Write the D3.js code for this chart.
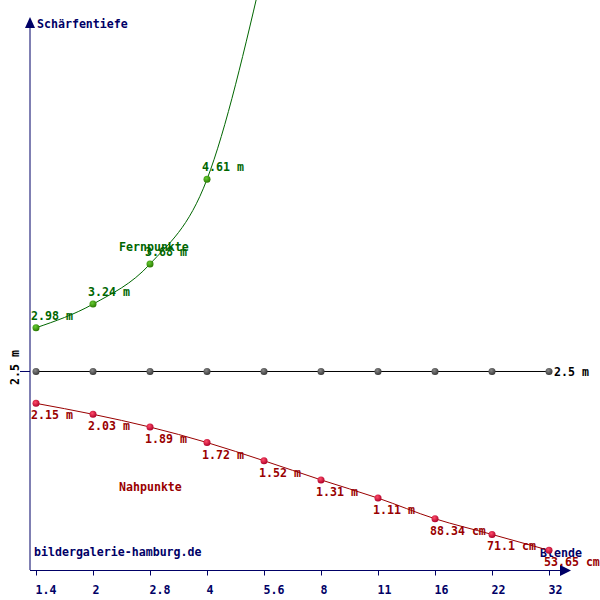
<!DOCTYPE html>
<html><head><meta charset="utf-8">
<script src="https://cdn.jsdelivr.net/npm/d3@7/dist/d3.min.js"></script>
<style>
html,body{margin:0;padding:0;background:#fff;}
svg text{font-family:"DejaVu Sans Mono",monospace;font-weight:bold;font-size:11.6px;}
</style>
</head><body>
<script>
const blenden = ["1.4","2","2.8","4","5.6","8","11","16","22","32"];
const nahValues = [2.15, 2.03, 1.89, 1.72, 1.52, 1.31, 1.11, 0.8834, 0.711, 0.5365];
const nahLabels = ["2.15 m","2.03 m","1.89 m","1.72 m","1.52 m","1.31 m","1.11 m","88.34 cm","71.1 cm","53.65 cm"];
const fernValues = [2.98, 3.24, 3.68, 4.61, 6.95];
const fernLabels = ["2.98 m","3.24 m","3.68 m","4.61 m","6.95 m"];
const focusValue = 2.5;
const focusLabel = "2.5 m";

const W = 600, H = 600;
const svg = d3.select("body").append("svg").attr("width", W).attr("height", H);
const defs = svg.append("defs");
function grad(id, c0, c1) {
  const g = defs.append("radialGradient").attr("id", id).attr("cx", "40%").attr("cy", "35%").attr("r", "65%");
  g.append("stop").attr("offset", "0%").attr("stop-color", c0);
  g.append("stop").attr("offset", "100%").attr("stop-color", c1);
}
grad("gRed", "#ff4d6a", "#b0002a");
grad("gGreen", "#66cc33", "#2a7a00");
grad("gGray", "#888888", "#3a3a3a");
defs.append("clipPath").attr("id", "clip").append("rect").attr("x", 30).attr("y", 0).attr("width", 570).attr("height", 570);

const x = d3.scalePoint().domain(blenden).range([36, 549]);
const y = d3.scaleLinear().domain([0, 6]).range([599.2, 52.7]);

const navy = "#000066";
// axes
svg.append("line").attr("x1", 30).attr("y1", 24).attr("x2", 30).attr("y2", 570).attr("stroke", navy).attr("stroke-width", 1);
svg.append("path").attr("d", "M30,17 L25,28 L35,28 Z").attr("fill", navy);
svg.append("line").attr("x1", 30).attr("y1", 570.5).attr("x2", 566).attr("y2", 570.5).attr("stroke", navy).attr("stroke-width", 1);
svg.append("path").attr("d", "M571,570.5 L560,565 L560,576 Z").attr("fill", navy);

const xAxis = d3.axisBottom(x).tickSize(5).tickPadding(0);
const gx = svg.append("g").attr("transform", "translate(0,570.5)").call(xAxis);
gx.select(".domain").remove();
gx.selectAll(".tick line").attr("stroke", navy).attr("y1", 0).attr("y2", 5);
gx.selectAll(".tick text").attr("fill", navy).attr("text-anchor", "start").attr("x", -1).attr("y", 23).attr("dy", null);

// y tick at focus
svg.append("line").attr("x1", 20).attr("x2", 30).attr("y1", y(focusValue)).attr("y2", y(focusValue)).attr("stroke", navy);
svg.append("text").attr("transform", `translate(19,${y(focusValue) - 4}) rotate(-90)`).attr("text-anchor", "middle").attr("fill", "#000").text(focusLabel);

svg.append("text").attr("x", 37).attr("y", 28).attr("fill", navy).text("Schärfentiefe");
svg.append("text").attr("x", 540).attr("y", 557).attr("fill", navy).text("Blende");
svg.append("text").attr("x", 34).attr("y", 556).attr("fill", navy).text("bildergalerie-hamburg.de");

const plot = svg.append("g").attr("clip-path", "url(#clip)");

// focus line
const focusData = blenden.map(b => ({b, v: focusValue}));
plot.append("path").datum(focusData)
  .attr("d", d3.line().x(d => x(d.b)).y(d => y(d.v)))
  .attr("fill", "none").attr("stroke", "#000").attr("stroke-width", 1);

// near
const nahData = blenden.map((b, i) => ({b, v: nahValues[i], l: nahLabels[i]}));
plot.append("path").datum(nahData)
  .attr("d", d3.line().curve(d3.curveMonotoneX).x(d => x(d.b)).y(d => y(d.v)))
  .attr("fill", "none").attr("stroke", "#990000").attr("stroke-width", 1);

// far
const fernData = fernValues.map((v, i) => ({b: blenden[i], v, l: fernLabels[i]}));
plot.append("path").datum(fernData)
  .attr("d", d3.line().curve(d3.curveMonotoneX).x(d => x(d.b)).y(d => y(d.v)))
  .attr("fill", "none").attr("stroke", "#006600").attr("stroke-width", 1);

// markers
svg.selectAll(".mf").data(focusData).enter().append("circle")
  .attr("cx", d => x(d.b)).attr("cy", d => y(d.v)).attr("r", 3.5).attr("fill", "url(#gGray)");
svg.selectAll(".mn").data(nahData).enter().append("circle")
  .attr("cx", d => x(d.b)).attr("cy", d => y(d.v)).attr("r", 3.5).attr("fill", "url(#gRed)");
svg.selectAll(".mr").data(fernData.filter(d => y(d.v) > 0)).enter().append("circle")
  .attr("cx", d => x(d.b)).attr("cy", d => y(d.v)).attr("r", 3.5).attr("fill", "url(#gGreen)");

// labels
svg.selectAll(".ln").data(nahData).enter().append("text")
  .attr("x", d => x(d.b) - 5).attr("y", d => y(d.v) + 16).attr("fill", "#990000").text(d => d.l);
svg.selectAll(".lf").data(fernData.filter(d => y(d.v) > 0)).enter().append("text")
  .attr("x", d => x(d.b) - 5).attr("y", d => y(d.v) - 8).attr("fill", "#006600").text(d => d.l);
svg.append("text").attr("x", x(blenden[blenden.length - 1]) + 5).attr("y", y(focusValue) + 5).attr("fill", "#000").text(focusLabel);

svg.append("text").attr("x", 119).attr("y", 251).attr("fill", "#006600").text("Fernpunkte");
svg.append("text").attr("x", 119).attr("y", 491).attr("fill", "#990000").text("Nahpunkte");
</script>
</body></html>
